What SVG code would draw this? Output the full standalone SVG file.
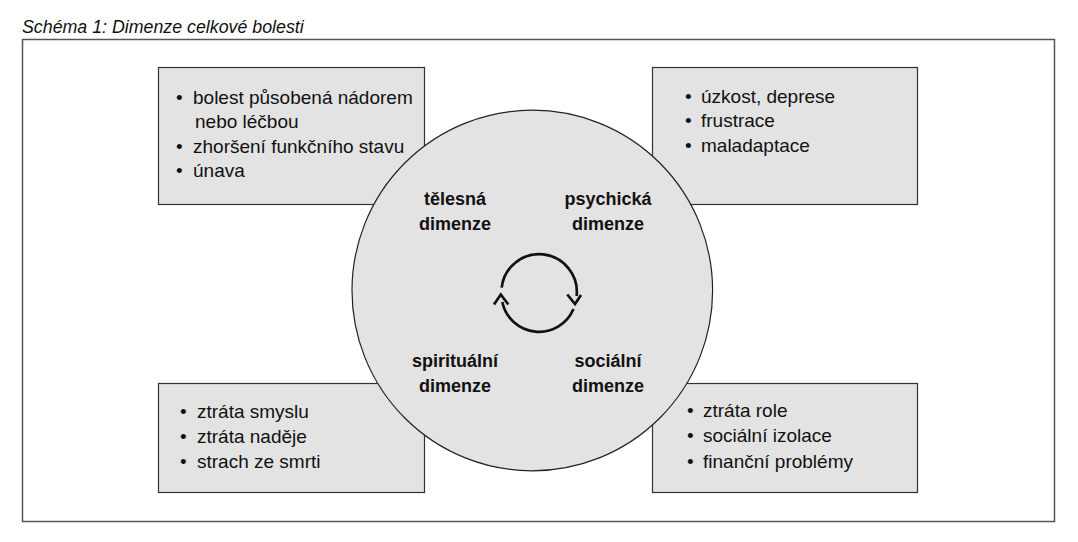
<svg xmlns="http://www.w3.org/2000/svg" width="1078" height="542" viewBox="0 0 1078 542">
<style>
.title{font-family:"Liberation Sans",Arial,sans-serif;font-style:italic;font-size:17.8px;fill:#111}
.box{fill:#e3e3e3;stroke:#333;stroke-width:1.2}
.item{font-family:"Liberation Sans",Arial,sans-serif;font-size:19px;fill:#111}
.lbl{font-family:"Liberation Sans",Arial,sans-serif;font-size:18px;font-weight:bold;fill:#111;text-anchor:middle}
.cyc{fill:none;stroke:#111;stroke-width:2.7}
</style>
<rect width="1078" height="542" fill="#fff"/>
<text class="title" x="22" y="33">Schéma 1: Dimenze celkové bolesti</text>
<rect x="22.5" y="39.5" width="1032" height="482" fill="#fff" stroke="#555" stroke-width="1.5"/>
<g id="box-telesna">
<rect class="box" x="158.5" y="67.5" width="266" height="137"/>
<text class="item" x="176" y="104">•</text><text class="item" x="193" y="104">bolest působená nádorem</text>
<text class="item" x="195" y="128">nebo léčbou</text>
<text class="item" x="176" y="153">•</text><text class="item" x="193" y="153">zhoršení funkčního stavu</text>
<text class="item" x="176" y="177">•</text><text class="item" x="193" y="177">únava</text>
</g>
<g id="box-psychicka">
<rect class="box" x="652.5" y="67.5" width="265" height="137"/>
<text class="item" x="685" y="103">•</text><text class="item" x="701" y="103">úzkost, deprese</text>
<text class="item" x="685" y="127">•</text><text class="item" x="701" y="127">frustrace</text>
<text class="item" x="685" y="152">•</text><text class="item" x="701" y="152">maladaptace</text>
</g>
<g id="box-spiritualni">
<rect class="box" x="158.5" y="383.5" width="266" height="109"/>
<text class="item" x="180" y="418">•</text><text class="item" x="197" y="418">ztráta smyslu</text>
<text class="item" x="180" y="443">•</text><text class="item" x="197" y="443">ztráta naděje</text>
<text class="item" x="180" y="468">•</text><text class="item" x="197" y="468">strach ze smrti</text>
</g>
<g id="box-socialni">
<rect class="box" x="652.5" y="383.5" width="265" height="109"/>
<text class="item" x="687" y="417">•</text><text class="item" x="703" y="417">ztráta role</text>
<text class="item" x="687" y="442">•</text><text class="item" x="703" y="442">sociální izolace</text>
<text class="item" x="687" y="468">•</text><text class="item" x="703" y="468">finanční problémy</text>
</g>
<g id="circle">
<circle cx="532.3" cy="290.5" r="180.3" fill="#e3e3e3" stroke="#222" stroke-width="1.2"/>
<text class="lbl" x="455" y="205">tělesná</text>
<text class="lbl" x="455" y="230">dimenze</text>
<text class="lbl" x="608" y="205">psychická</text>
<text class="lbl" x="608" y="230">dimenze</text>
<text class="lbl" x="455" y="367">spirituální</text>
<text class="lbl" x="455" y="392">dimenze</text>
<text class="lbl" x="608" y="367">sociální</text>
<text class="lbl" x="608" y="392">dimenze</text>
</g>
<g id="connectors">
<path class="cyc" d="M501.7 287.7 A37.5 37.5 0 0 1 576.6 296"/>
<polyline class="cyc" points="567.3,294.5 575,304 581,295"/>
<path class="cyc" d="M573.5 309 A37.5 37.5 0 0 1 502.3 302"/>
<polyline class="cyc" points="494,304.5 500.8,294.5 508.3,304.5"/>
</g>
</svg>
